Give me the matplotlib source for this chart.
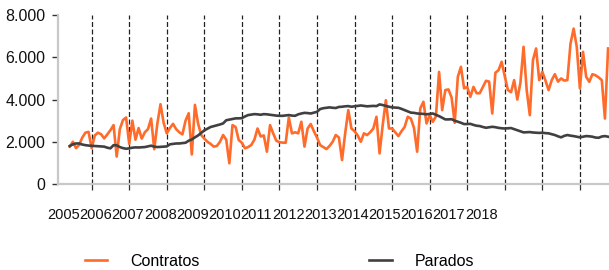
import matplotlib
matplotlib.use("Agg")
import matplotlib.pyplot as plt
from matplotlib.ticker import FuncFormatter

# Serie mensual (índice de mes desde el inicio de la serie)
contratos = [
    1770, 2000, 1700, 1850, 2200, 2430, 2470, 1700, 2300, 2430, 2360, 2160,
    2350, 2550, 2790, 1300, 2600, 3030, 3150, 1900, 3000, 2100, 2650, 2150,
    2450, 2600, 3100, 1650, 2870, 3780, 2900, 2400, 2650, 2850, 2600, 2450,
    2350, 3000, 3350, 1400, 3750, 2870, 2320, 2150, 2000, 1900, 1770, 1800,
    2000, 2320, 2100, 980, 2790, 2700, 2080, 1950, 1690, 1750, 1850, 2100,
    2630, 2250, 2300, 1530, 2790, 2400, 2050, 1980, 1960, 1955, 3150, 2400,
    2450, 2400, 2950, 1770, 2630, 2840, 2500, 2200, 1845, 1750, 1655, 1800,
    2000, 2320, 2200, 1135, 2400, 3500, 2630, 2500, 2300, 2000, 2400, 2320,
    2450, 2630, 3185, 1450, 2800, 3970, 2630, 2630, 2450, 2270, 2500, 2700,
    3185, 3100, 2650, 1530, 3580, 3895, 2870, 3260, 2950, 3200, 5310, 3500,
    4450, 4480, 4100, 2900, 5080, 5550, 4530, 4600, 4130, 4600, 4300, 4300,
    4600, 4890, 4850, 3340, 5270, 5390, 5790, 5100, 4450, 4350, 4920, 4000,
    4800, 6500, 4450, 3260, 5870, 6420, 4920, 5310, 4900, 4450, 4920, 5200,
    4850, 5000, 4900, 4920, 6650, 7360, 6500, 4530, 6260, 5080, 4840, 5200,
    5150, 5050, 4920, 3100, 6420,
]
parados = [
    1800, 1880, 1920, 1920, 1870, 1840, 1820, 1810, 1800, 1790, 1780, 1770,
    1720, 1690, 1840, 1830, 1750, 1700, 1670, 1690, 1720, 1735, 1730, 1740,
    1750, 1780, 1815, 1770, 1750, 1760, 1770, 1780, 1880, 1900, 1920, 1920,
    1940, 1955, 2050, 2110, 2210, 2300, 2420, 2540, 2620, 2700, 2740, 2780,
    2820, 2870, 3020, 3050, 3080, 3110, 3110, 3120, 3200, 3265, 3290, 3310,
    3300, 3280, 3310, 3300, 3280, 3260, 3240, 3230, 3230, 3250, 3265, 3240,
    3230, 3300, 3340, 3370, 3360, 3340, 3380, 3420, 3550, 3590, 3610, 3630,
    3610, 3600, 3650, 3660, 3680, 3690, 3660, 3680, 3700, 3720, 3700, 3680,
    3690, 3700, 3690, 3770, 3740, 3700, 3660, 3630, 3620, 3610, 3560, 3500,
    3440, 3380, 3370, 3340, 3330, 3320, 3300, 3320, 3340, 3280, 3215, 3140,
    3060, 3060, 3070, 3000, 2950, 2900, 2840, 2840, 2850, 2800, 2760, 2745,
    2700, 2665, 2690, 2710, 2690, 2660, 2640, 2630, 2640, 2650, 2600, 2555,
    2500, 2445, 2450, 2460, 2440, 2430, 2420, 2430, 2410, 2400, 2360, 2320,
    2260, 2210, 2280, 2320, 2290, 2270, 2240, 2210, 2240, 2270, 2260, 2240,
    2200, 2190, 2250, 2270, 2240,
]
anios = [str(a) for a in range(2005, 2019)]
# meses donde caen las líneas verticales
marcas = list(range(7, 173, 12))

plt.rcParams["font.family"] = ["Liberation Sans", "DejaVu Sans"]

fig = plt.figure(figsize=(6.09, 2.70), dpi=100)
ax = fig.add_axes([0.095, 0.3185, 0.905, 0.6255])

meses = list(range(len(contratos)))
ax.plot(meses, contratos, color="#ff6b2b", linewidth=1.9, label="Contratos")
ax.plot(meses, parados, color="#404040", linewidth=1.9, label="Parados")

ax.set_xlim(-3.8, 172.3)
ax.set_ylim(0, 8000)
ax.set_yticks([0, 2000, 4000, 6000, 8000])
ax.yaxis.set_major_formatter(FuncFormatter(lambda v, p: f"{v:,.0f}".replace(",", ".")))
ax.tick_params(axis="y", labelsize=11.5, length=4, width=1, color="#333333",
               pad=5, labelcolor="#111111")

# líneas verticales discontinuas
ax.set_xticks(marcas)
ax.set_xticklabels([])
ax.tick_params(axis="x", length=4, width=0.9, color="#333333")
ax.grid(axis="x", color="#222222", linestyle=(0, (4, 2)), linewidth=0.9)

for s in ["top", "right"]:
    ax.spines[s].set_visible(False)
for s in ["left", "bottom"]:
    ax.spines[s].set_color("#c8c8c8")
    ax.spines[s].set_linewidth(1.6)

# etiquetas de años (apiladas bajo el eje)
for i, a in enumerate(anios):
    xpos = 0.011 + i * (0.768 - 0.011) / (len(anios) - 1)
    ax.text(xpos, -0.183, a, transform=ax.transAxes, ha="center", va="center",
            fontsize=10.5, color="#111111")

fig.legend(loc="center left", bbox_to_anchor=(85 / 609, 1 - 261 / 270), ncol=2,
           frameon=False, fontsize=11.5, handlelength=1.4, handletextpad=1.45,
           columnspacing=10.6, borderpad=0, borderaxespad=0)

fig.savefig("out.png", dpi=100)
